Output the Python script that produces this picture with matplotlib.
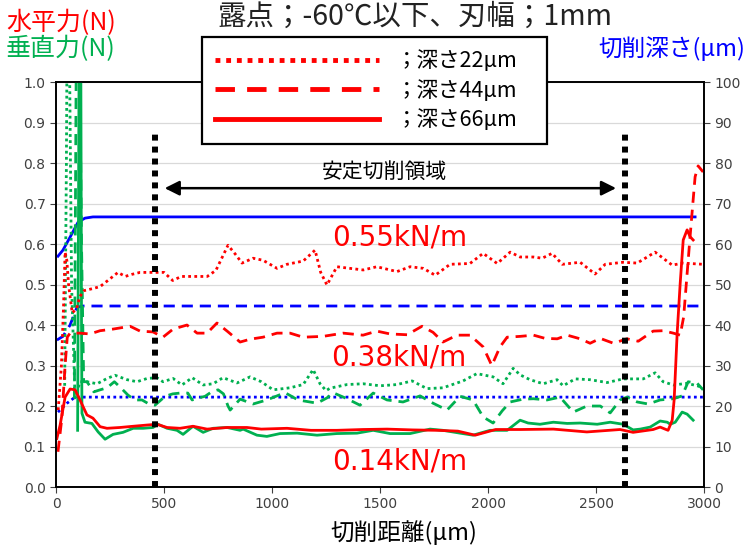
import matplotlib
matplotlib.use('Agg')
import matplotlib.pyplot as plt

JP = ['Noto Sans CJK JP', 'DejaVu Sans']

# horizontal force (N), depth 22 / 44 / 66 um
r22_x = [10, 25, 35, 42, 50, 58, 75, 95, 110, 130, 170, 204, 240, 287, 320, 350, 389, 420, 460, 500,
         540, 580, 640, 700, 740, 796, 830, 861, 912, 958, 1023, 1069, 1144, 1199, 1225, 1254, 1300,
         1360, 1422, 1485, 1578, 1639, 1700, 1755, 1824, 1916, 1977, 2042, 2102, 2148, 2210, 2250,
         2296, 2343, 2426, 2495, 2542, 2625, 2690, 2773, 2852, 2903, 2995]
r22_y = [0.19, 0.30, 0.45, 0.58, 0.56, 0.50, 0.43, 0.44, 0.47, 0.485, 0.49, 0.495, 0.51, 0.53, 0.52,
         0.525, 0.53, 0.53, 0.53, 0.53, 0.51, 0.52, 0.52, 0.52, 0.535, 0.597, 0.575, 0.553, 0.565,
         0.56, 0.54, 0.55, 0.558, 0.585, 0.53, 0.499, 0.544, 0.54, 0.536, 0.544, 0.532, 0.544, 0.54,
         0.523, 0.55, 0.552, 0.577, 0.552, 0.58, 0.568, 0.568, 0.565, 0.577, 0.55, 0.555, 0.526,
         0.55, 0.555, 0.553, 0.58, 0.548, 0.553, 0.55]

r44_x = [9, 27, 42, 52, 65, 97, 111, 157, 204, 264, 343, 389, 449, 495, 542, 606, 653, 699, 745, 792,
         852, 898, 958, 1023, 1083, 1144, 1236, 1329, 1421, 1485, 1546, 1625, 1694, 1745, 1791, 1856,
         1916, 1977, 2017, 2055, 2088, 2148, 2210, 2264, 2320, 2366, 2426, 2472, 2519, 2580, 2643,
         2695, 2736, 2764, 2810, 2857, 2889, 2905, 2920, 2935, 2945, 2958, 2972, 2995]
r44_y = [0.087, 0.17, 0.30, 0.37, 0.38, 0.38, 0.38, 0.378, 0.386, 0.39, 0.397, 0.385, 0.383, 0.37,
         0.39, 0.40, 0.38, 0.38, 0.405, 0.385, 0.358, 0.365, 0.37, 0.38, 0.38, 0.37, 0.372, 0.38,
         0.375, 0.385, 0.378, 0.376, 0.397, 0.382, 0.358, 0.375, 0.375, 0.346, 0.30, 0.346, 0.37,
         0.372, 0.375, 0.367, 0.366, 0.375, 0.366, 0.355, 0.367, 0.355, 0.366, 0.36, 0.375, 0.385,
         0.386, 0.38, 0.375, 0.42, 0.52, 0.62, 0.684, 0.766, 0.793, 0.778]

r66_x = [4, 19, 42, 65, 88, 111, 143, 171, 204, 236, 296, 357, 421, 467, 514, 574, 634, 699, 792, 884,
         950, 1069, 1180, 1300, 1420, 1532, 1650, 1763, 1860, 1940, 2035, 2148, 2302, 2457, 2611,
         2671, 2764, 2796, 2833, 2852, 2861, 2875, 2889, 2903, 2921, 2935, 2949]
r66_y = [0.12, 0.153, 0.222, 0.242, 0.24, 0.215, 0.178, 0.17, 0.149, 0.145, 0.147, 0.15, 0.153, 0.155,
         0.147, 0.145, 0.15, 0.143, 0.147, 0.147, 0.143, 0.145, 0.14, 0.14, 0.142, 0.143, 0.141, 0.14,
         0.138, 0.128, 0.142, 0.142, 0.143, 0.136, 0.142, 0.135, 0.142, 0.148, 0.14, 0.165, 0.215,
         0.38, 0.503, 0.61, 0.635, 0.618, 0.61]

# vertical force (N)
g22_x = [40, 48, 52, 60, 72, 88, 111, 143, 190, 236, 273, 329, 375, 421, 467, 495, 542, 583, 630, 681,
         727, 773, 838, 898, 950, 1005, 1083, 1144, 1190, 1222, 1250, 1268, 1347, 1421, 1500, 1578,
         1648, 1717, 1791, 1884, 1948, 2023, 2069, 2116, 2148, 2194, 2255, 2319, 2347, 2403, 2472,
         2551, 2625, 2718, 2773, 2810, 2857, 2921, 2968, 2995]
g22_y = [0.25, 0.8, 1.2, 1.2, 0.5, 0.22, 0.26, 0.26, 0.255, 0.268, 0.276, 0.265, 0.26, 0.268, 0.27,
         0.26, 0.268, 0.252, 0.27, 0.252, 0.255, 0.27, 0.257, 0.272, 0.26, 0.24, 0.245, 0.253, 0.29,
         0.255, 0.238, 0.244, 0.253, 0.255, 0.25, 0.253, 0.262, 0.243, 0.245, 0.262, 0.28, 0.272,
         0.255, 0.293, 0.277, 0.265, 0.255, 0.265, 0.25, 0.267, 0.265, 0.258, 0.267, 0.267, 0.282,
         0.26, 0.252, 0.256, 0.25, 0.245]

g44_x = [85, 95, 105, 118, 128, 143, 175, 204, 236, 270, 300, 333, 365, 398, 430, 458, 505, 540, 574,
         610, 630, 660, 690, 720, 750, 775, 796, 806, 852, 912, 976, 1060, 1120, 1208, 1254, 1282,
         1347, 1407, 1468, 1532, 1606, 1685, 1745, 1810, 1870, 1930, 1977, 2023, 2065, 2102, 2162,
         2210, 2273, 2333, 2394, 2457, 2519, 2565, 2611, 2643, 2690, 2741, 2796, 2857, 2898, 2926,
         2968, 2995]
g44_y = [0.22, 1.2, 1.3, 0.6, 0.26, 0.26, 0.235, 0.24, 0.245, 0.26, 0.245, 0.227, 0.215, 0.215, 0.205,
         0.202, 0.224, 0.23, 0.232, 0.232, 0.215, 0.22, 0.224, 0.235, 0.24, 0.23, 0.2, 0.19, 0.217,
         0.205, 0.215, 0.233, 0.215, 0.207, 0.22, 0.233, 0.218, 0.202, 0.232, 0.215, 0.21, 0.225,
         0.207, 0.19, 0.224, 0.215, 0.173, 0.158, 0.188, 0.21, 0.217, 0.218, 0.215, 0.222, 0.185, 0.2,
         0.2, 0.183, 0.215, 0.222, 0.21, 0.205, 0.215, 0.218, 0.225, 0.26, 0.256, 0.24]

g66_x = [100, 108, 114, 118, 120, 134, 166, 195, 227, 264, 310, 357, 403, 449, 472, 514, 560, 588, 634,
         681, 727, 792, 852, 866, 930, 976, 1037, 1116, 1208, 1300, 1393, 1468, 1546, 1639, 1731,
         1791, 1870, 1930, 2009, 2088, 2148, 2185, 2240, 2302, 2366, 2426, 2505, 2565, 2625, 2671,
         2704, 2750, 2796, 2829, 2843, 2866, 2898, 2921, 2949]
g66_y = [0.14, 1.2, 1.2, 0.4, 0.182, 0.16, 0.157, 0.136, 0.118, 0.13, 0.135, 0.145, 0.145, 0.147,
         0.155, 0.145, 0.14, 0.13, 0.15, 0.135, 0.145, 0.147, 0.14, 0.143, 0.128, 0.125, 0.132, 0.133,
         0.128, 0.132, 0.133, 0.14, 0.132, 0.132, 0.143, 0.14, 0.133, 0.128, 0.14, 0.14, 0.165, 0.158,
         0.155, 0.16, 0.157, 0.158, 0.155, 0.16, 0.155, 0.141, 0.143, 0.148, 0.163, 0.16, 0.155, 0.16,
         0.185, 0.18, 0.165]

# cutting depth (um), right axis
b66_x = [9, 32, 65, 102, 134, 171, 2958]
b66_y = [57, 58.5, 61.7, 65.4, 66.4, 66.7, 66.7]
b44_x = [4, 32, 65, 97, 125, 3000]
b44_y = [36.3, 37.2, 40, 44.4, 44.7, 44.7]
b22_x = [9, 51, 88, 3000]
b22_y = [18.5, 20.7, 22.2, 22.2]

stable_start, stable_end = 460, 2635
legend_labels = ['；深さ22μm', '；深さ44μm', '；深さ66μm']
notes = [(1590, 0.615, '0.55kN/m'), (1585, 0.32, '0.38kN/m'), (1590, 0.063, '0.14kN/m')]

RED, GREEN, BLUE = '#FF0000', '#00B050', '#0000FF'
DOT = (0, (1, 1.2))
DASH = (0, (4, 2.5))
lw = 2.0

fig = plt.figure(figsize=(7.45, 5.45), dpi=100)
ax = fig.add_axes([0.0752, 0.1064, 0.870, 0.743])
ax2 = ax.twinx()

ax.set_xlim(0, 3000)
ax.set_ylim(0, 1.0)
ax2.set_ylim(0, 100)
ax.set_xticks(range(0, 3001, 500))
ax.set_yticks([i / 10 for i in range(11)])
ax.set_yticklabels(['%.1f' % (i / 10) for i in range(11)])
ax2.set_yticks(range(0, 101, 10))
ax.grid(axis='y', color='#D9D9D9', linewidth=0.9)
ax.set_axisbelow(True)

for a in (ax, ax2):
    a.tick_params(colors='#404040', labelsize=10, length=4, width=0.8)
    for s in a.spines.values():
        s.set_color('black')
        s.set_linewidth(1.2)

ax2.plot(b22_x, b22_y, color=BLUE, lw=lw, ls=DOT)
ax2.plot(b44_x, b44_y, color=BLUE, lw=lw, ls=DASH)
ax2.plot(b66_x, b66_y, color=BLUE, lw=lw, ls='-')

# force lines go on the twin axes too (so they sit above the blue lines)
def on_ax2(xs, ys):
    return xs, [v * 100 for v in ys]

ax2.plot(*on_ax2(g22_x, g22_y), color=GREEN, lw=lw, ls=DOT)
ax2.plot(*on_ax2(g44_x, g44_y), color=GREEN, lw=lw, ls=DASH)
ax2.plot(*on_ax2(g66_x, g66_y), color=GREEN, lw=lw, ls='-')
l22, = ax2.plot(*on_ax2(r22_x, r22_y), color=RED, lw=lw, ls=DOT)
l44, = ax2.plot(*on_ax2(r44_x, r44_y), color=RED, lw=lw, ls=DASH)
l66, = ax2.plot(*on_ax2(r66_x, r66_y), color=RED, lw=lw, ls='-')

# stable region markers
for xv in (stable_start, stable_end):
    ax2.plot([xv, xv], [0, 88], color='black', lw=4.3, ls=(0, (1, 1)), solid_capstyle='butt')
ax2.annotate('', xy=(stable_start + 30, 73.8), xytext=(stable_end - 30, 73.8),
             arrowprops=dict(arrowstyle='<|-|>', color='black', lw=1.8, mutation_scale=22))
ax2.text((stable_start + stable_end) / 2 - 25, 77.8, '安定切削領域', ha='center', va='center',
         fontsize=15, family=JP, color='black')

for xv, yv, t in notes:
    ax2.text(xv, yv * 100, t, ha='center', va='center', fontsize=20, color=RED)

leg = fig.legend([l22, l44, l66], legend_labels, loc='upper left', mode='expand',
                 bbox_to_anchor=(0.271, 0.932 - 0.195, 0.463, 0.195), borderaxespad=0,
                 prop={'family': JP, 'size': 15.5},
                 handlelength=7.6, handletextpad=0.75, borderpad=0.62, labelspacing=0.34,
                 frameon=True, fancybox=False, edgecolor='black', framealpha=1)
leg.get_frame().set_linewidth(1.6)
for ln in leg.get_lines():
    ln.set_linewidth(3.5)

fig.text(0.557, 0.97, '露点；-60℃以下、刃幅；1mm', ha='center', va='center', fontsize=20.5,
         family=JP, color='#222222')
fig.text(0.008, 0.958, '水平力(N)', ha='left', va='center', fontsize=18, family=JP, color=RED)
fig.text(0.008, 0.91, '垂直力(N)', ha='left', va='center', fontsize=18, family=JP, color=GREEN)
fig.text(1.0, 0.91, '切削深さ(μm)', ha='right', va='center', fontsize=17, family=JP, color=BLUE)
fig.text(0.542, 0.022, '切削距離(μm)', ha='center', va='center', fontsize=17, family=JP,
         color='black')

fig.savefig('out.png', dpi=100)
